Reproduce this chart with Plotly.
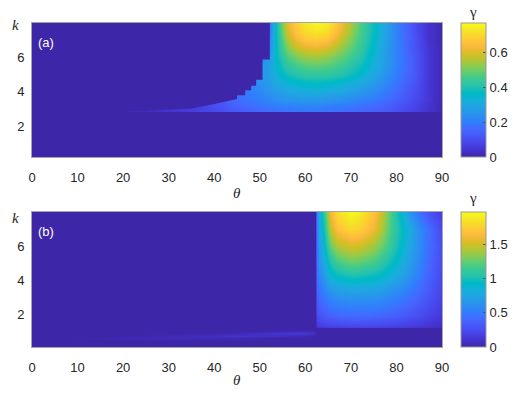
import plotly.graph_objects as go

W, H = 525, 394

# ---------------- data ----------------
theta_a = [0, 18, 25, 30, 35, 40, 44, 47, 50, 52, 53, 54, 56, 58, 60, 62.5, 65, 68, 72, 76, 80, 84, 87, 90]
k_a = [0.2, 2.76, 2.8, 2.88, 2.92, 3.2, 3.5, 4.0, 4.5, 5.0, 5.5, 6.0, 6.5, 7.0, 7.5, 8.0]
gamma_a = [
    [0] * 24,
    [0] * 24,
    [0] * 24,
    [0, 0, .02, .04, .06, .09, .12, .14, .16, .17, .17, .18, .18, .19, .19, .19, .18, .17, .16, .14, .11, .07, .04, .01],
    [0, 0, .02, .04, .06, .09, .12, .14, .16, .17, .17, .18, .18, .19, .19, .19, .18, .17, .16, .14, .11, .07, .04, .01],
    [0, 0, .02, .04, .06, .10, .14, .16, .18, .19, .20, .20, .21, .21, .22, .22, .21, .20, .18, .16, .12, .08, .04, .01],
    [0, 0, .02, .04, .06, .10, .15, .18, .20, .22, .23, .24, .25, .25, .26, .26, .25, .24, .21, .18, .14, .09, .05, .01],
    [0, 0, .02, .04, .06, .10, .15, .19, .22, .25, .26, .27, .29, .30, .31, .31, .30, .29, .26, .22, .16, .10, .05, .01],
    [0, 0, .02, .04, .06, .10, .15, .20, .24, .27, .29, .31, .33, .35, .36, .37, .36, .34, .30, .25, .18, .11, .05, .01],
    [0, 0, .02, .04, .06, .10, .15, .20, .25, .28, .31, .34, .38, .40, .42, .42, .42, .40, .35, .28, .20, .12, .05, .01],
    [0, 0, .02, .04, .06, .10, .15, .20, .25, .28, .32, .36, .42, .45, .47, .48, .47, .44, .38, .30, .21, .12, .05, .01],
    [0, 0, .02, .04, .06, .10, .15, .20, .22, .26, .32, .38, .46, .50, .53, .54, .52, .48, .41, .31, .21, .12, .05, .01],
    [0, 0, .02, .04, .06, .10, .15, .20, .22, .22, .31, .39, .50, .56, .59, .60, .58, .52, .43, .32, .21, .11, .05, .01],
    [0, 0, .02, .04, .06, .10, .15, .20, .20, .20, .30, .40, .54, .62, .66, .67, .65, .56, .45, .33, .21, .11, .04, .01],
    [0, 0, .02, .04, .06, .10, .15, .17, .17, .17, .30, .41, .58, .66, .70, .72, .70, .60, .46, .34, .21, .10, .04, .01],
    [0, 0, .02, .04, .06, .10, .15, .15, .15, .15, .30, .42, .60, .68, .73, .76, .73, .62, .47, .34, .21, .10, .04, .01],
]
# stair-step edge of the unstable region in (a)
stair_theta = [0, 52.2, 52.2, 50.6, 50.6, 49.2, 49.2, 48.1, 48.1, 46.8, 46.8, 45.0, 45.0, 44, 39, 35, 28, 23, 19, 0]
stair_k = [8, 8, 5.88, 5.88, 4.70, 4.70, 4.35, 4.35, 4.09, 4.09, 3.80, 3.80, 3.57, 3.52, 3.22, 3.03, 2.93, 2.88, 2.85, 2.85]

theta_b = [0, 15, 25, 35, 45, 55, 60, 61.7, 62.1, 62.5, 62.9, 64, 65.5, 67, 70, 72, 75, 77, 79, 81, 83, 85, 87, 90]
k_b = [0.1, 0.45, 0.6, 0.75, 0.9, 1.05, 1.15, 1.22, 1.28, 1.35, 1.6, 2.0, 2.8, 3.6, 4.4, 5.2, 6.0, 7.0, 8.0]
gamma_b = [
    [0] * 24,
    [0] * 24,
    [0, .01, .04, .04, .02, 0, 0, 0, 0, 0] + [0] * 14,
    [0, 0, .01, .05, .10, .06, .02, 0, 0, 0] + [0] * 14,
    [0, 0, 0, 0, .02, .12, .13, .08, .03, 0] + [0] * 14,
    [0, 0, 0, 0, 0, .02, .05, .03, 0, 0] + [0] * 14,
    [0] * 24,
    [0] * 24,
    [0] * 9 + [.10, .12, .14, .16, .17, .18, .18, .18, .17, .16, .15, .13, .11, .09, .06],
    [0] * 9 + [.14, .16, .18, .20, .21, .22, .22, .22, .21, .20, .18, .16, .14, .11, .07],
    [0] * 9 + [.20, .22, .25, .28, .30, .31, .31, .30, .29, .27, .25, .22, .19, .15, .10],
    [0] * 9 + [.25, .28, .33, .37, .40, .42, .42, .41, .39, .37, .34, .30, .26, .21, .14],
    [0] * 9 + [.33, .38, .45, .52, .57, .60, .60, .59, .56, .52, .47, .41, .35, .28, .18],
    [0] * 9 + [.40, .48, .58, .70, .76, .80, .80, .78, .74, .68, .61, .53, .44, .34, .20],
    [0] * 9 + [.45, .56, .70, .88, .98, 1.05, 1.04, .99, .93, .85, .75, .64, .52, .39, .22],
    [0] * 9 + [.50, .63, .80, 1.05, 1.20, 1.30, 1.28, 1.20, 1.10, .98, .85, .71, .57, .42, .24],
    [0] * 9 + [.52, .68, .90, 1.25, 1.42, 1.52, 1.50, 1.38, 1.25, 1.09, .93, .76, .60, .44, .25],
    [0] * 9 + [.55, .75, 1.00, 1.45, 1.68, 1.80, 1.76, 1.60, 1.38, 1.15, .97, .78, .60, .43, .22],
    [0] * 9 + [.55, .80, 1.10, 1.60, 1.82, 1.97, 1.90, 1.70, 1.45, 1.15, .90, .65, .45, .30, .15],
]

theta_ticks = [0, 10, 20, 30, 40, 50, 60, 70, 80, 90]
k_ticks = [2, 4, 6]
cb_ticks_a = [0, 0.2, 0.4, 0.6]
cb_ticks_b = [0, 0.5, 1, 1.5]
cb_text_b = ["0", "0.5", "1", "1.5"]

# ---------------- style ----------------
parula = [
    (0.2422, 0.1504, 0.6603), (0.2504, 0.1650, 0.7076), (0.2578, 0.1818, 0.7511), (0.2647, 0.1978, 0.7952),
    (0.2706, 0.2147, 0.8364), (0.2751, 0.2342, 0.8710), (0.2783, 0.2559, 0.8991), (0.2803, 0.2782, 0.9221),
    (0.2813, 0.3006, 0.9414), (0.2810, 0.3228, 0.9579), (0.2795, 0.3447, 0.9717), (0.2760, 0.3667, 0.9829),
    (0.2699, 0.3892, 0.9906), (0.2602, 0.4123, 0.9952), (0.2440, 0.4358, 0.9988), (0.2206, 0.4603, 0.9973),
    (0.1963, 0.4847, 0.9892), (0.1834, 0.5074, 0.9798), (0.1786, 0.5289, 0.9682), (0.1764, 0.5499, 0.9520),
    (0.1687, 0.5703, 0.9359), (0.1540, 0.5902, 0.9218), (0.1460, 0.6091, 0.9079), (0.1380, 0.6276, 0.8973),
    (0.1248, 0.6459, 0.8883), (0.1113, 0.6635, 0.8763), (0.0952, 0.6798, 0.8598), (0.0689, 0.6948, 0.8394),
    (0.0297, 0.7082, 0.8163), (0.0036, 0.7203, 0.7917), (0.0067, 0.7312, 0.7660), (0.0433, 0.7411, 0.7394),
    (0.0964, 0.7500, 0.7120), (0.1408, 0.7584, 0.6842), (0.1717, 0.7670, 0.6554), (0.1938, 0.7758, 0.6251),
    (0.2161, 0.7843, 0.5923), (0.2470, 0.7918, 0.5567), (0.2906, 0.7973, 0.5188), (0.3406, 0.8008, 0.4789),
    (0.3909, 0.8029, 0.4354), (0.4456, 0.8024, 0.3909), (0.5044, 0.7993, 0.3480), (0.5616, 0.7942, 0.3045),
    (0.6174, 0.7876, 0.2612), (0.6720, 0.7793, 0.2227), (0.7242, 0.7698, 0.1910), (0.7738, 0.7598, 0.1646),
    (0.8203, 0.7498, 0.1535), (0.8634, 0.7406, 0.1596), (0.9035, 0.7330, 0.1774), (0.9393, 0.7288, 0.2100),
    (0.9728, 0.7298, 0.2394), (0.9956, 0.7434, 0.2371), (0.9970, 0.7659, 0.2199), (0.9952, 0.7893, 0.2028),
    (0.9892, 0.8136, 0.1885), (0.9786, 0.8386, 0.1766), (0.9676, 0.8639, 0.1643), (0.9610, 0.8890, 0.1537),
    (0.9597, 0.9135, 0.1423), (0.9628, 0.9373, 0.1265), (0.9691, 0.9606, 0.1064), (0.9769, 0.9839, 0.0805),
]
n = len(parula)
cscale = [[i / (n - 1), "rgb(%d,%d,%d)" % tuple(round(c * 255) for c in rgb)] for i, rgb in enumerate(parula)]
bg = cscale[0][1]

SANS = "Liberation Sans, Arial, Helvetica, sans-serif"
SERIF = "Liberation Serif, Times New Roman, serif"
TXT = "#262626"

# plot area (pixels) : x 32..442, y 23..347
L, R, T, B = 32, 442, 23, 347
PW, PH = R - L, B - T


def fx(x):
    return (x - L) / PW


def fy(y):
    return 1 - (y - T) / PH


fig = go.Figure()

panels = [
    dict(x=theta_a, y=k_a, z=gamma_a, zmax=0.766, top=23, bot=157, ks=[0.2, 8],
         cbt=cb_ticks_a, cbtext=None, ax="", label="(a)", kdy=2, tdy=36, gdy=-11),
    dict(x=theta_b, y=k_b, z=gamma_b, zmax=1.98, top=212, bot=347, ks=[0.1, 8],
         cbt=cb_ticks_b, cbtext=cb_text_b, ax="2", label="(b)", kdy=6, tdy=33, gdy=-14),
]

for p in panels:
    cb = dict(
        x=fx(461), xanchor="left", xpad=0, thickness=25, thicknessmode="pixels",
        y=fy(p["bot"]), yanchor="bottom", ypad=0, len=p["bot"] - p["top"], lenmode="pixels",
        outlinecolor="#9a9a9a", outlinewidth=1,
        tickvals=p["cbt"], ticks="inside", ticklen=3, tickcolor="#555",
        tickfont=dict(family=SANS, size=13, color=TXT),
    )
    if p["cbtext"]:
        cb["ticktext"] = p["cbtext"]
    fig.add_trace(go.Heatmap(
        x=p["x"], y=p["y"], z=p["z"], zmin=0, zmax=p["zmax"],
        colorscale=cscale, zsmooth="best", colorbar=cb,
        xaxis="x" + p["ax"], yaxis="y" + p["ax"], hoverinfo="skip",
    ))

# mask left of the stair-step edge in panel (a)
fig.add_trace(go.Scatter(
    x=stair_theta, y=stair_k, mode="lines", fill="toself", fillcolor=bg,
    line=dict(width=0, color=bg), xaxis="x", yaxis="y", showlegend=False, hoverinfo="skip",
))

axis_common = dict(showgrid=False, zeroline=False, showline=True, mirror=True,
                   linecolor="#a6a6a6", linewidth=1, ticks="", automargin=False,
                   tickfont=dict(family=SANS, size=13, color=TXT))

for p in panels:
    xa = dict(axis_common, domain=[0, 1], range=[0, 90], tickvals=theta_ticks,
              anchor="y" + p["ax"], ticklabelstandoff=8)
    ya = dict(axis_common, domain=[fy(p["bot"]), fy(p["top"])], range=p["ks"], tickvals=k_ticks,
              anchor="x" + p["ax"], ticklabelstandoff=4)
    fig.layout["xaxis" + p["ax"]] = xa
    fig.layout["yaxis" + p["ax"]] = ya


def note(text, x, y, font):
    return dict(text=text, x=fx(x), y=fy(y), xref="paper", yref="paper", xanchor="center",
                yanchor="middle", showarrow=False, font=font)


ann = []
for p in panels:
    ann.append(note("<i>k</i>", 15, p["top"] + p["kdy"], dict(family=SERIF, size=15, color=TXT)))
    ann.append(note("<i>θ</i>", 237, p["bot"] + p["tdy"], dict(family=SERIF, size=15, color=TXT)))
    ann.append(note("γ", 473, p["top"] + p["gdy"], dict(family=SERIF, size=15, color=TXT)))
    ann.append(note(p["label"], 46, p["top"] + 19, dict(family=SANS, size=13, color="white")))

fig.update_layout(
    width=W, height=H, margin=dict(l=L, r=W - R, t=T, b=H - B, autoexpand=False),
    paper_bgcolor="white", plot_bgcolor="white", showlegend=False, annotations=ann,
)

fig.write_html("out.html", config={"displayModeBar": False},
               post_script="document.body.style.margin='0';document.body.style.padding='0';")
